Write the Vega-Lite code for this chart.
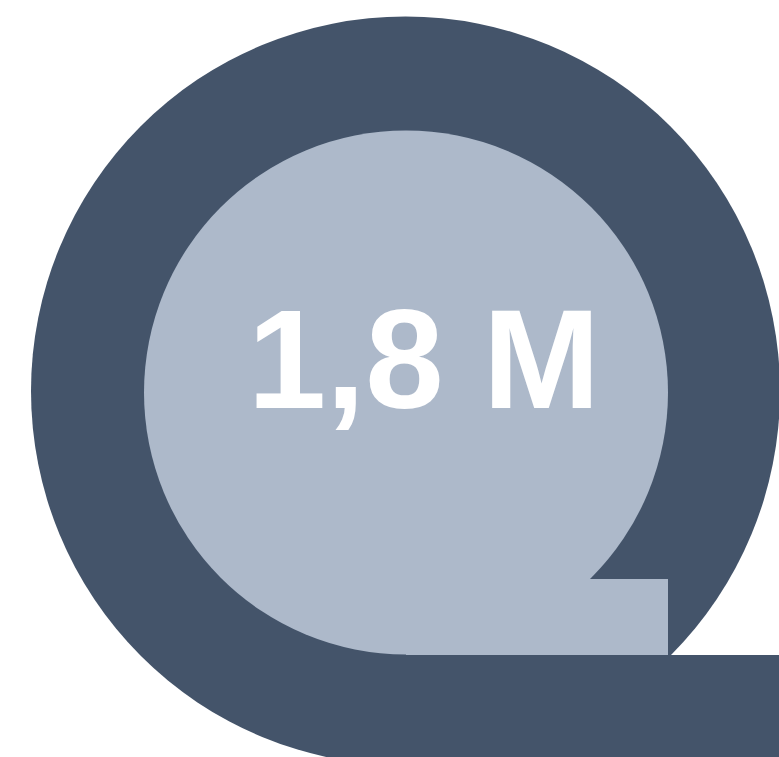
{
  "$schema": "https://vega.github.io/schema/vega-lite/v6.json",
  "width": 779,
  "height": 757,
  "padding": 0,
  "autosize": {"type": "none"},
  "background": "#ffffff",
  "config": {"view": {"stroke": null}},
  "datasets": {
    "outer": [{"part": "outer ring", "cx": 405.5, "cy": 391}],
    "bar": [{"part": "tail", "x1": 406, "x2": 800, "y1": 655, "y2": 780}],
    "inner": [{"part": "inner disc", "cx": 406, "cy": 392.5}],
    "notch": [{"part": "inner corner", "x1": 406, "x2": 668, "y1": 579, "y2": 655}],
    "label": [{"value": "1,8 M", "x": 424, "y": 408}]
  },
  "layer": [
    {
      "data": {"name": "outer"},
      "mark": {"type": "point", "shape": "circle", "filled": true, "size": 561001, "color": "#44546A", "opacity": 1, "strokeWidth": 0, "clip": true},
      "encoding": {
        "x": {"field": "cx", "type": "quantitative", "scale": {"domain": [0, 779]}, "axis": null},
        "y": {"field": "cy", "type": "quantitative", "scale": {"domain": [0, 757], "reverse": true}, "axis": null}
      }
    },
    {
      "data": {"name": "bar"},
      "mark": {"type": "rect", "color": "#44546A", "clip": true},
      "encoding": {
        "x": {"field": "x1", "type": "quantitative", "scale": {"domain": [0, 779]}, "axis": null},
        "x2": {"field": "x2"},
        "y": {"field": "y1", "type": "quantitative", "scale": {"domain": [0, 757], "reverse": true}, "axis": null},
        "y2": {"field": "y2"}
      }
    },
    {
      "data": {"name": "inner"},
      "mark": {"type": "point", "shape": "circle", "filled": true, "size": 274576, "color": "#ADB9CA", "opacity": 1, "strokeWidth": 0, "clip": true},
      "encoding": {
        "x": {"field": "cx", "type": "quantitative", "scale": {"domain": [0, 779]}, "axis": null},
        "y": {"field": "cy", "type": "quantitative", "scale": {"domain": [0, 757], "reverse": true}, "axis": null}
      }
    },
    {
      "data": {"name": "notch"},
      "mark": {"type": "rect", "color": "#ADB9CA", "clip": true},
      "encoding": {
        "x": {"field": "x1", "type": "quantitative", "scale": {"domain": [0, 779]}, "axis": null},
        "x2": {"field": "x2"},
        "y": {"field": "y1", "type": "quantitative", "scale": {"domain": [0, 757], "reverse": true}, "axis": null},
        "y2": {"field": "y2"}
      }
    },
    {
      "data": {"name": "label"},
      "mark": {"type": "text", "font": "Liberation Sans", "fontWeight": "bold", "fontSize": 141, "color": "#ffffff", "align": "center", "baseline": "alphabetic"},
      "encoding": {
        "x": {"field": "x", "type": "quantitative", "scale": {"domain": [0, 779]}, "axis": null},
        "y": {"field": "y", "type": "quantitative", "scale": {"domain": [0, 757], "reverse": true}, "axis": null},
        "text": {"field": "value"}
      }
    }
  ]
}
